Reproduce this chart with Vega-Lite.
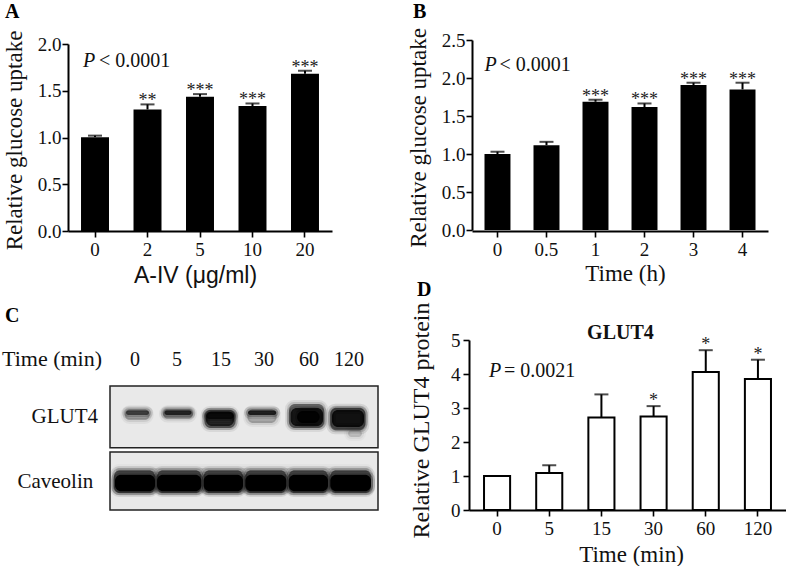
{
"$schema":"https://vega.github.io/schema/vega-lite/v6.json",
"background":"white",
"padding":{"left":2,"top":1,"right":0,"bottom":0},
"config":{"font":"Liberation Serif","view":{"stroke":null},
"title":{"font":"Liberation Serif","fontWeight":"bold","fontSize":20,"color":"black","anchor":"start","frame":"group"},
"axis":{"grid":false,"labelOverlap":false,"tickCount":12,"domainColor":"black","domainWidth":2,"tickColor":"black","tickWidth":1.6,"tickSize":6,"labelColor":"#111","labelFont":"Liberation Serif","labelFontSize":19,"labelPadding":3,"titleColor":"#111","titleFont":"Liberation Serif","titleFontWeight":"normal","titleFontSize":23,"titleBaseline":"alphabetic"}},
"datasets":{"bands":[
{"a":56.7,"b":81.7,"c":90,"d":100.7,"density":0.25},{"a":58,"b":81,"c":95,"d":99.5,"density":0.55},
{"a":95,"b":125,"c":91.5,"d":100.7,"density":0.3},{"a":96.5,"b":123.5,"c":95,"d":99.5,"density":0.7},
{"a":136.7,"b":167.3,"c":82,"d":100,"density":0.4},{"a":138,"b":166,"c":84,"d":98.5,"density":0.7},{"a":138,"b":166,"c":91,"d":98,"density":0.7},
{"a":179.3,"b":208.7,"c":87,"d":100.7,"density":0.25},{"a":180,"b":208.3,"c":95,"d":99.5,"density":0.75},
{"a":221,"b":256,"c":82,"d":106,"density":0.4},{"a":222.7,"b":255,"c":84,"d":102,"density":0.8},{"a":229,"b":251.7,"c":87,"d":99,"density":0.9},
{"a":280,"b":294,"c":73,"d":80,"density":0.15},{"a":262.3,"b":297.3,"c":79.7,"d":102.3,"density":0.5},{"a":264,"b":296,"c":83,"d":100,"density":0.85},
{"a":48,"b":301,"c":37,"d":42,"density":0.12},
{"a":46,"b":87,"c":17,"d":39.7,"density":0.5},{"a":89,"b":133.3,"c":17,"d":39.7,"density":0.5},{"a":135.7,"b":175,"c":17,"d":39.7,"density":0.5},{"a":177.3,"b":218.3,"c":17,"d":39.7,"density":0.5},{"a":220.7,"b":260,"c":17,"d":39.7,"density":0.5},{"a":262.3,"b":303,"c":17,"d":39.7,"density":0.5},
{"a":47,"b":87,"c":18.7,"d":35.3,"density":1},{"a":89,"b":133.3,"c":18.7,"d":35.3,"density":1},{"a":135.7,"b":175,"c":18.7,"d":35.3,"density":1},{"a":177.3,"b":218.3,"c":18.7,"d":35.3,"density":1},{"a":220.7,"b":260,"c":18.7,"d":35.3,"density":1},{"a":262.3,"b":303,"c":18.7,"d":35.3,"density":1}
]},
"bounds":"flush",
"spacing":300,
"vconcat":[
{"bounds":"flush","spacing":140,"hconcat":[
{"width":264,"height":191,
"title":{"text":"A","dx":-63,"offset":8},
"data":{"values":[{"dose":"0","uptake":1.004,"err":1.02},{"dose":"2","uptake":1.30,"err":1.354,"sig":"**"},{"dose":"5","uptake":1.436,"err":1.464,"sig":"***"},{"dose":"10","uptake":1.336,"err":1.364,"sig":"***"},{"dose":"20","uptake":1.682,"err":1.714,"sig":"***"}]},
"encoding":{"x":{"field":"dose","type":"nominal","sort":null,"scale":{"paddingInner":0.467,"paddingOuter":0.248},"axis":{"labelAngle":0,"title":"A-IV (μg/ml)","titleFont":"Liberation Sans","titleX":127,"titleY":51}}},
"layer":[
{"mark":{"type":"rule","color":"black","strokeWidth":2},"encoding":{"y":{"field":"uptake","type":"quantitative","scale":{"domain":[0,2],"range":[191,4],"nice":false},"axis":{"values":[0,0.5,1,1.5,2],"format":".1f","labelPadding":1,"title":"Relative glucose uptake","titleX":-47,"titleY":100}},"y2":{"field":"err"}}},
{"mark":{"type":"tick","color":"black","thickness":2,"size":14},"encoding":{"y":{"field":"err","type":"quantitative"}}},
{"mark":{"type":"bar","color":"black"},"encoding":{"y":{"field":"uptake","type":"quantitative"}}},
{"transform":[{"filter":"datum.sig"}],"mark":{"type":"text","fontSize":18,"dy":-3,"color":"#222"},"encoding":{"y":{"field":"err","type":"quantitative"},"text":{"field":"sig"}}},
{"data":{"values":[{"t":"P"}]},"mark":{"type":"text","fontSize":20,"fontStyle":"italic","align":"left","baseline":"alphabetic","dx":-12,"color":"#111"},"encoding":{"x":{"datum":"0"},"y":{"datum":1.757},"text":{"field":"t"}}},
{"data":{"values":[{"t":"< 0.0001"}]},"mark":{"type":"text","fontSize":20,"align":"left","baseline":"alphabetic","dx":4,"color":"#111"},"encoding":{"x":{"datum":"0"},"y":{"datum":1.757},"text":{"field":"t"}}}
]},
{"width":296,"height":191,
"title":{"text":"B","dx":-59,"offset":6},
"data":{"values":[{"time":"0","uptake":1.0,"err":1.03},{"time":"0.5","uptake":1.116,"err":1.16},{"time":"1","uptake":1.687,"err":1.714,"sig":"***"},{"time":"2","uptake":1.617,"err":1.665,"sig":"***"},{"time":"3","uptake":1.907,"err":1.938,"sig":"***"},{"time":"4","uptake":1.85,"err":1.938,"sig":"***"}]},
"encoding":{"x":{"field":"time","type":"nominal","sort":null,"scale":{"paddingInner":0.47,"paddingOuter":0.255},"axis":{"labelAngle":0,"title":"Time (h)","titleX":153,"titleY":49}}},
"layer":[
{"mark":{"type":"rule","color":"black","strokeWidth":2},"encoding":{"y":{"field":"uptake","type":"quantitative","scale":{"domain":[0,2.5],"range":[190,0],"nice":false},"axis":{"values":[0,0.5,1,1.5,2,2.5],"format":".1f","labelPadding":1,"title":"Relative glucose uptake","titleX":-47,"titleY":97.5}},"y2":{"field":"err"}}},
{"mark":{"type":"tick","color":"black","thickness":2,"size":14},"encoding":{"y":{"field":"err","type":"quantitative"}}},
{"mark":{"type":"bar","color":"black"},"encoding":{"y":{"field":"uptake","type":"quantitative"}}},
{"transform":[{"filter":"datum.sig"}],"mark":{"type":"text","fontSize":18,"dy":-3,"color":"#222"},"encoding":{"y":{"field":"err","type":"quantitative"},"text":{"field":"sig"}}},
{"data":{"values":[{"t":"P"}]},"mark":{"type":"text","fontSize":20,"fontStyle":"italic","align":"left","baseline":"alphabetic","dx":-13,"color":"#111"},"encoding":{"x":{"datum":"0"},"y":{"datum":2.096},"text":{"field":"t"}}},
{"data":{"values":[{"t":"< 0.0001"}]},"mark":{"type":"text","fontSize":20,"align":"left","baseline":"alphabetic","dx":2,"color":"#111"},"encoding":{"x":{"datum":"0"},"y":{"datum":2.096},"text":{"field":"t"}}}
]}
]},
{"bounds":"flush","spacing":91,"hconcat":[
{"width":310,"height":170,
"title":{"text":"C","dx":-63,"offset":14},
"layer":[
{"data":{"values":[{"lane":42,"lane2":310,"mig":62.3,"mig2":124},{"lane":42,"lane2":310,"mig":0,"mig2":58}]},
"mark":{"type":"rect","fill":"#e9e9e9","stroke":"#222","strokeWidth":1.5},
"encoding":{"x":{"field":"lane","type":"quantitative","scale":{"domain":[0,310],"nice":false},"axis":null},"x2":{"field":"lane2"},"y":{"field":"mig","type":"quantitative","scale":{"domain":[0,170],"nice":false},"axis":null},"y2":{"field":"mig2"}}},
{"data":{"name":"bands"},"mark":{"type":"rect","fillOpacity":0,"stroke":"black","strokeOpacity":0.18,"strokeWidth":8,"cornerRadius":5},
"encoding":{"x":{"field":"a","type":"quantitative"},"x2":{"field":"b"},"y":{"field":"c","type":"quantitative"},"y2":{"field":"d"},"opacity":{"field":"density","type":"quantitative","scale":{"domain":[0,1],"range":[0,1]},"legend":null}}},
{"data":{"name":"bands"},"mark":{"type":"rect","fillOpacity":0,"stroke":"black","strokeOpacity":0.3,"strokeWidth":4,"cornerRadius":5},
"encoding":{"x":{"field":"a","type":"quantitative"},"x2":{"field":"b"},"y":{"field":"c","type":"quantitative"},"y2":{"field":"d"},"opacity":{"field":"density","type":"quantitative"}}},
{"data":{"name":"bands"},"mark":{"type":"rect","fill":"black","cornerRadius":6},
"encoding":{"x":{"field":"a","type":"quantitative"},"x2":{"field":"b"},"y":{"field":"c","type":"quantitative"},"y2":{"field":"d"},"opacity":{"field":"density","type":"quantitative"}}},
{"data":{"values":[{"p":67,"t":"0"},{"p":109,"t":"5"},{"p":153,"t":"15"},{"p":196,"t":"30"},{"p":241,"t":"60"},{"p":281,"t":"120"}]},
"mark":{"type":"text","fontSize":20,"color":"#111","baseline":"alphabetic"},
"encoding":{"x":{"field":"p","type":"quantitative"},"y":{"datum":144.3},"text":{"field":"t"}}},
{"data":{"values":[{"p":-66,"q":144.3,"t":"Time (min)"}]},
"mark":{"type":"text","fontSize":22,"align":"left","baseline":"alphabetic","color":"#111"},
"encoding":{"x":{"field":"p","type":"quantitative"},"y":{"field":"q","type":"quantitative"},"text":{"field":"t"}}},
{"data":{"values":[{"p":30,"q":87,"t":"GLUT4"},{"p":25.3,"q":21.7,"t":"Caveolin"}]},
"mark":{"type":"text","fontSize":21,"align":"right","baseline":"alphabetic","color":"#111"},
"encoding":{"x":{"field":"p","type":"quantitative"},"y":{"field":"q","type":"quantitative"},"text":{"field":"t"}}}
]},
{"width":317,"height":170,
"title":{"text":"D","dx":-52,"offset":2},
"data":{"values":[{"time":"0","protein":1.0,"err":1.0},{"time":"5","protein":1.09,"err":1.316},{"time":"15","protein":2.72,"err":3.40},{"time":"30","protein":2.75,"err":3.055,"sig":"*"},{"time":"60","protein":4.06,"err":4.70,"sig":"*"},{"time":"120","protein":3.85,"err":4.42,"sig":"*"}]},
"encoding":{"x":{"field":"time","type":"nominal","sort":null,"scale":{"paddingInner":0.5,"paddingOuter":0.288},"axis":{"labelAngle":0,"title":"Time (min)","titleX":162,"titleY":51}}},
"layer":[
{"mark":{"type":"rule","color":"black","strokeWidth":2},"encoding":{"y":{"field":"protein","type":"quantitative","scale":{"domain":[0,5],"nice":false},"axis":{"values":[0,1,2,3,4,5],"format":"d","labelPadding":3,"title":"Relative GLUT4 protein","titleFontSize":24,"titleX":-41,"titleY":80}},"y2":{"field":"err"}}},
{"mark":{"type":"tick","color":"black","thickness":2,"size":14},"encoding":{"y":{"field":"err","type":"quantitative"}}},
{"mark":{"type":"bar","fill":"white","stroke":"black","strokeWidth":2},"encoding":{"y":{"field":"protein","type":"quantitative"}}},
{"transform":[{"filter":"datum.sig"}],"mark":{"type":"text","fontSize":18,"dy":-5,"color":"#222"},"encoding":{"y":{"field":"err","type":"quantitative"},"text":{"field":"sig"}}},
{"data":{"values":[{"t":"P"}]},"mark":{"type":"text","fontSize":20,"fontStyle":"italic","align":"left","baseline":"alphabetic","dx":-8,"color":"#111"},"encoding":{"x":{"datum":"0"},"y":{"datum":3.91},"text":{"field":"t"}}},
{"data":{"values":[{"t":"= 0.0021"}]},"mark":{"type":"text","fontSize":20,"align":"left","baseline":"alphabetic","dx":7,"color":"#111"},"encoding":{"x":{"datum":"0"},"y":{"datum":3.91},"text":{"field":"t"}}},
{"data":{"values":[{"t":"GLUT4"}]},"mark":{"type":"text","fontSize":20,"fontWeight":"bold","dx":19,"dy":-1,"baseline":"alphabetic","color":"#111"},"encoding":{"x":{"datum":"15"},"y":{"datum":5},"text":{"field":"t"}}}
]}
]}
]
}
